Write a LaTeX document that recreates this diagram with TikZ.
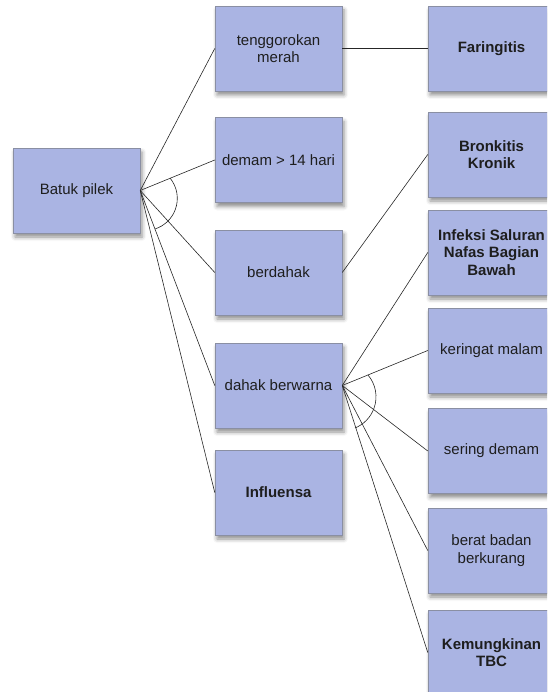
\documentclass[tikz,border=0pt]{standalone}
\usepackage{fontspec}
\setmainfont{Liberation Sans}
\usetikzlibrary{shadows.blur}
\definecolor{boxblue}{HTML}{AAB4E3}
\definecolor{boxline}{HTML}{8A8FA3}
\definecolor{txt}{HTML}{1E1E1E}
\begin{document}
\begin{tikzpicture}[x=1pt,y=-1pt,
  box/.style={draw=boxline, line width=0.5pt, fill=boxblue, minimum width=127pt, minimum height=85pt,
    align=center, text=txt, font=\fontsize{15}{17.5}\selectfont, inner sep=2pt,
    blur shadow={shadow xshift=2pt, shadow yshift=-4pt, shadow blur radius=4pt, shadow opacity=45}},
  bbox/.style={box, font=\fontsize{15}{17.5}\selectfont\bfseries},
  link/.style={draw=black!85, line width=0.6pt}]
\clip (0,0) rectangle (547,692);
% column 1
\node[box] (batuk) at (76.5,190.5) {Batuk pilek};
% column 2
\node[box] (teng) at (278.5,48.5) {tenggorokan\\merah};
\node[box] (demam) at (278.5,160) {demam > 14 hari};
\node[box] (berdahak) at (278.5,272.5) {berdahak};
\node[box] (dahak) at (278.5,385.5) {dahak berwarna};
\node[bbox] (influ) at (278.5,492.5) {Influensa};
% column 3
\node[bbox] (faring) at (491.5,48.5) {Faringitis};
\node[bbox] (bronk) at (491.5,154.5) {Bronkitis\\Kronik};
\node[bbox] (infeksi) at (491.5,252.5) {Infeksi Saluran\\Nafas Bagian\\Bawah};
\node[box] (keringat) at (491.5,350.5) {keringat malam};
\node[box] (sering) at (491.5,451) {sering demam};
\node[box] (berat) at (491.5,550.5) {berat badan\\berkurang};
\node[bbox] (tbc) at (491.5,652.5) {Kemungkinan\\TBC};
% connectors
\draw[link] (batuk.east) -- (teng.west);
\draw[link] (batuk.east) -- (demam.west);
\draw[link] (batuk.east) -- (berdahak.west);
\draw[link] (batuk.east) -- (dahak.west);
\draw[link] (batuk.east) -- (influ.west);
\draw[link] (teng.east) -- (faring.west);
\draw[link] (berdahak.east) -- (bronk.west);
\draw[link] (dahak.east) -- (infeksi.west);
\draw[link] (dahak.east) -- (keringat.west);
\draw[link] (dahak.east) -- (sering.west);
\draw[link] (dahak.east) -- (berat.west);
\draw[link] (dahak.east) -- (tbc.west);
% AND arcs
\coordinate (arcA) at (145.2,198.4);
\coordinate (arcB) at (342.3,396.8);
\draw[link] (arcA) ++(-39.4:32.1) arc[start angle=-39.4, end angle=72.2, radius=32.1];
\draw[link] (arcB) ++(-40.3:33.7) arc[start angle=-40.3, end angle=67.9, radius=33.7];
\end{tikzpicture}
\end{document}
